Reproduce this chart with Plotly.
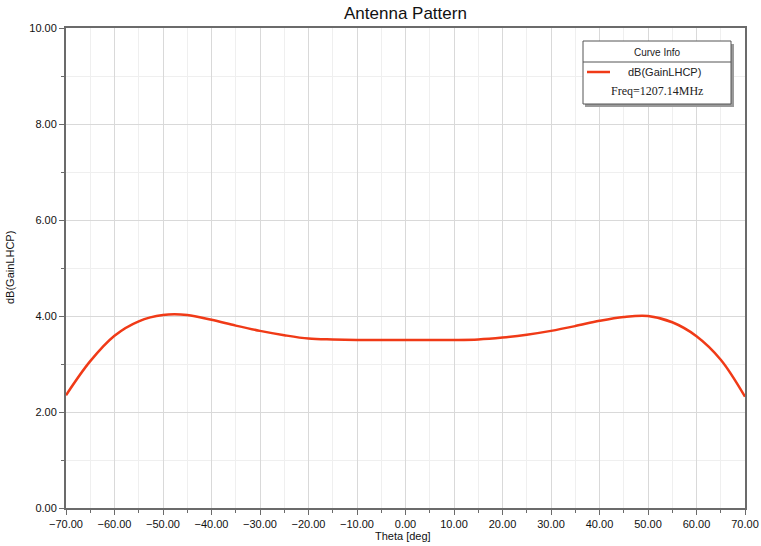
import plotly.graph_objects as go

theta = [-70, -65, -60, -55, -50, -45, -40, -35, -30, -25, -20, -15, -10, -5, 0,
         5, 10, 15, 20, 25, 30, 35, 40, 45, 50, 55, 60, 65, 70]
gain = [2.35, 3.06, 3.59, 3.89, 4.02, 4.02, 3.92, 3.80, 3.69, 3.60, 3.53, 3.51, 3.50, 3.50, 3.50,
        3.50, 3.50, 3.51, 3.55, 3.61, 3.69, 3.79, 3.90, 3.98, 4.00, 3.87, 3.58, 3.09, 2.32]

x_ticks = [-70, -60, -50, -40, -30, -20, -10, 0, 10, 20, 30, 40, 50, 60, 70]
y_ticks = [0, 2, 4, 6, 8, 10]

W, H = 761, 546
L, R, T, B = 66, 16, 28, 38
pw, ph = W - L - R, H - T - B

def px(x):
    return (x - L) / pw

def py(y):
    return (H - B - y) / ph

fig = go.Figure()
fig.add_trace(go.Scatter(x=theta, y=gain, mode="lines", line=dict(color="#f03a17", width=2.5, shape="spline", smoothing=1.0),
                         showlegend=False))

axis_common = dict(showline=True, linecolor="#6b6b6b", linewidth=2, mirror=True,
                   ticks="outside", ticklen=5, tickcolor="#6b6b6b", tickwidth=1,
                   showgrid=True, gridcolor="#d9d9d9", gridwidth=1, zeroline=False,
                   tickfont=dict(family="Arial, Liberation Sans", size=11, color="#111"),
                   tickformat=".2f", automargin=False)

fig.update_xaxes(range=[-70, 70], tickvals=x_ticks, **axis_common,
                 minor=dict(dtick=5, showgrid=True, gridcolor="#efefef", ticks="outside", ticklen=3, tickcolor="#6b6b6b"))
fig.update_yaxes(range=[0, 10], tickvals=y_ticks, **axis_common,
                 minor=dict(dtick=1, showgrid=True, gridcolor="#efefef", ticks="outside", ticklen=3, tickcolor="#6b6b6b"))

shapes = []
# legend shadow and box
shapes.append(dict(type="rect", xref="paper", yref="paper", x0=px(585), x1=px(734), y0=py(107), y1=py(44),
                   fillcolor="#9a9a9a", line=dict(width=0), layer="above"))
shapes.append(dict(type="rect", xref="paper", yref="paper", x0=px(583), x1=px(731), y0=py(104), y1=py(41),
                   fillcolor="white", line=dict(color="#555", width=1), layer="above"))
shapes.append(dict(type="line", xref="paper", yref="paper", x0=px(583), x1=px(731), y0=py(62), y1=py(62),
                   line=dict(color="#555", width=1), layer="above"))
shapes.append(dict(type="line", xref="paper", yref="paper", x0=px(587), x1=px(610), y0=py(72), y1=py(72),
                   line=dict(color="#f03a17", width=2.5), layer="above"))

font_sans = "Arial, Liberation Sans"
annotations = [
    dict(text="Antenna Pattern", xref="paper", yref="paper", x=0.5, y=py(13), showarrow=False,
         font=dict(family=font_sans, size=17, color="#111"), xanchor="center", yanchor="middle"),
    dict(text="Theta [deg]", xref="paper", yref="paper", x=px(403), y=py(536), showarrow=False,
         font=dict(family=font_sans, size=11, color="#111"), xanchor="center", yanchor="middle"),
    dict(text="dB(GainLHCP)", xref="paper", yref="paper", x=px(10), y=py(268), showarrow=False, textangle=-90,
         font=dict(family=font_sans, size=11, color="#111"), xanchor="center", yanchor="middle"),
    dict(text="Curve Info", xref="paper", yref="paper", x=px(657), y=py(52), showarrow=False,
         font=dict(family=font_sans, size=10, color="#222"), xanchor="center", yanchor="middle"),
    dict(text="dB(GainLHCP)", xref="paper", yref="paper", x=px(664), y=py(72), showarrow=False,
         font=dict(family=font_sans, size=11, color="#222"), xanchor="center", yanchor="middle"),
    dict(text="Freq=1207.14MHz", xref="paper", yref="paper", x=px(657), y=py(91), showarrow=False,
         font=dict(family="Liberation Serif, Times New Roman", size=12, color="#222"), xanchor="center", yanchor="middle"),
]

fig.update_layout(width=W, height=H, margin=dict(l=L, r=R, t=T, b=B, pad=0, autoexpand=False),
                  plot_bgcolor="white", paper_bgcolor="white",
                  shapes=shapes, annotations=annotations, showlegend=False)

fig.write_html("out.html")
